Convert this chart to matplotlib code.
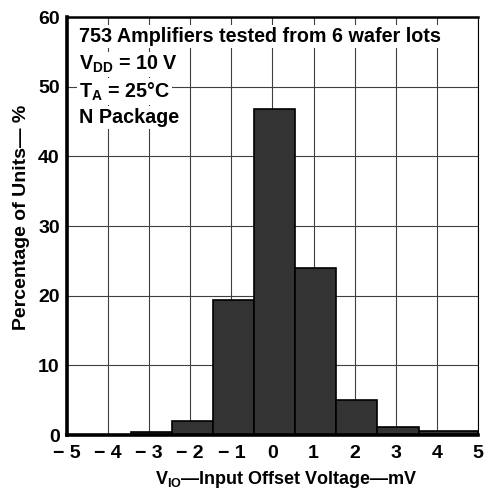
import matplotlib
matplotlib.use("Agg")
import matplotlib.pyplot as plt

plt.rcParams['font.family'] = ['Liberation Sans', 'DejaVu Sans']
plt.rcParams['font.weight'] = 'bold'
plt.rcParams['mathtext.fontset'] = 'custom'
plt.rcParams['mathtext.rm'] = 'Liberation Sans:bold'
plt.rcParams['mathtext.it'] = 'Liberation Sans:bold'
plt.rcParams['mathtext.bf'] = 'Liberation Sans:bold'

# Histogram data
bin_left = [-3.45, -2.45, -1.45, -0.45, 0.55, 1.55, 2.55, 3.55]
bin_right = [-2.45, -1.45, -0.45, 0.55, 1.55, 2.55, 3.55, 5.0]
percent = [0.5, 2.0, 19.4, 46.8, 24.0, 5.0, 1.2, 0.6]

x_ticks = [-5, -4, -3, -2, -1, 0, 1, 2, 3, 4, 5]
x_labels = ['\u2212 5', '\u2212 4', '\u2212 3', '\u2212 2', '\u2212 1', '0', '1', '2', '3', '4', '5']
y_ticks = [0, 10, 20, 30, 40, 50, 60]

fig = plt.figure(figsize=(4.84, 4.90), dpi=100)
ax = fig.add_axes([0.138, 0.112, 0.850, 0.853])

ax.set_xlim(-5, 5)
ax.set_ylim(0, 60)

for xv in x_ticks:
    ax.axvline(xv, color='0.25', lw=0.8, zorder=1)
for yv in y_ticks:
    ax.axhline(yv, color='0.25', lw=0.8, zorder=1)

widths = [r - l for l, r in zip(bin_left, bin_right)]
ax.bar(bin_left, percent, width=widths, align='edge', color='#333333',
       edgecolor='black', linewidth=1.2, zorder=2)

ax.set_xticks(x_ticks)
ax.set_xticklabels(x_labels)
ax.set_yticks(y_ticks)
ax.tick_params(axis='both', length=0, labelsize=14)
ax.tick_params(axis='x', pad=7)
ax.tick_params(axis='y', pad=5)
for lab in ax.get_xticklabels() + ax.get_yticklabels():
    lab.set_fontweight('bold')

ax.spines['left'].set_linewidth(2.6)
ax.spines['bottom'].set_linewidth(2.6)
ax.spines['top'].set_linewidth(1.8)
ax.spines['right'].set_linewidth(0.8)

ax.set_xlabel(r'$\mathrm{V_{IO}}$' + '\u2014Input Offset Voltage\u2014mV',
              fontsize=13, fontweight='bold')
ax.xaxis.set_label_coords(0.535, -0.082)
ax.set_ylabel('Percentage of Units\u2014 %', fontsize=14, fontweight='bold')
ax.yaxis.set_label_coords(-0.09, 0.52)

bb = dict(facecolor='white', edgecolor='none', pad=1.5)
fs = 14.2
ax.text(-4.7, 57.2, '753 Amplifiers tested from 6 wafer lots', fontsize=fs,
        fontweight='bold', va='center', ha='left', bbox=bb, zorder=3)
ax.text(-4.7, 53.2, r'$\mathrm{V_{DD}}$' + ' = 10 V', fontsize=fs,
        fontweight='bold', va='center', ha='left', bbox=bb, zorder=3)
ax.text(-4.7, 49.3, r'$\mathrm{T_{A}}$' + ' = 25\u00b0C', fontsize=fs,
        fontweight='bold', va='center', ha='left', bbox=bb, zorder=3)
ax.text(-4.7, 45.6, 'N Package', fontsize=fs,
        fontweight='bold', va='center', ha='left', bbox=bb, zorder=3)

fig.savefig('out.png', dpi=100)
